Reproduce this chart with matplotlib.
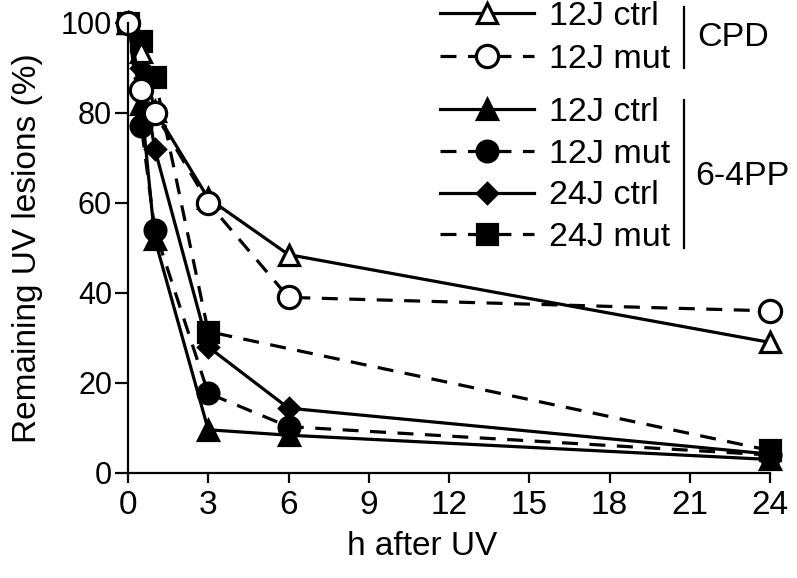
import matplotlib
matplotlib.use("Agg")
import matplotlib.pyplot as plt
from matplotlib.lines import Line2D

plt.rcParams['font.family'] = ['Liberation Sans', 'DejaVu Sans']

hours = [0, 0.5, 1, 3, 6, 24]
hours_24j_mut = [0, 0.5, 1, 3, 24]

cpd_12j_ctrl = [100, 93.5, 80.5, 61, 48.5, 29]
cpd_12j_mut = [100, 85, 80, 60, 39, 36]
pp_12j_ctrl = [100, 82, 52, 9.6, 8.4, 3]
pp_12j_mut = [100, 77, 54, 17.7, 10.3, 4]
pp_24j_ctrl = [100, 90, 72, 28, 14.4, 4.2]
pp_24j_mut = [100, 96, 88, 31.4, 5]

labels = ["12J ctrl", "12J mut", "12J ctrl", "12J mut", "24J ctrl", "24J mut"]
xticks = [0, 3, 6, 9, 12, 15, 18, 21, 24]
yticks = [0, 20, 40, 60, 80, 100]

W, H = 797, 578
fig = plt.figure(figsize=(W / 100, H / 100), dpi=100)
ax = fig.add_axes([128 / W, (H - 473) / H, 642 / W, 450.3 / H])

lw = 2.3
dash = (0, (5.0, 3.6))
common = dict(color='black', lw=lw, mew=lw, clip_on=False)

h_pp_ctrl12, = ax.plot(hours, pp_12j_ctrl, ls='-', marker='^', ms=15, mfc='black', mec='black', **common)
h_pp_mut12, = ax.plot(hours, pp_12j_mut, ls=dash, marker='o', ms=15, mfc='black', mec='black', **common)
h_pp_ctrl24, = ax.plot(hours, pp_24j_ctrl, ls='-', marker='D', ms=10, mfc='black', mec='black', **common)
h_pp_mut24, = ax.plot(hours_24j_mut, pp_24j_mut, ls=dash, marker='s', ms=14, mfc='black', mec='black', **common)
h_cpd_ctrl, = ax.plot(hours, cpd_12j_ctrl, ls='-', marker='^', ms=15, mfc='white', mec='black', **common)
h_cpd_mut, = ax.plot(hours, cpd_12j_mut, ls=dash, marker='o', ms=16, mfc='white', mec='black', **common)

ax.set_xlim(0, 24)
ax.set_ylim(0, 100)
ax.set_xticks(xticks)
ax.set_yticks(yticks)
ax.spines['top'].set_visible(False)
ax.spines['right'].set_visible(False)
for s in ('left', 'bottom'):
    ax.spines[s].set_linewidth(1.6)
ax.tick_params(axis='x', direction='out', length=7, width=1.6, labelsize=24, pad=5)
ax.tick_params(axis='y', direction='out', length=9.5, width=1.6, labelsize=22, pad=2)

ax.set_xlabel("h after UV", fontsize=24)
ax.set_ylabel("Remaining UV lesions (%)", fontsize=24)
ax.xaxis.set_label_coords(0.458, -0.128)
ax.yaxis.set_label_coords(-0.132, 0.5)

fs_leg = 24.5
leg_kw = dict(frameon=False, fontsize=fs_leg, handlelength=2.75, handletextpad=0.45,
              borderpad=0, borderaxespad=0, numpoints=1,
              loc='center left', bbox_transform=fig.transFigure)
leg1 = ax.legend([h_cpd_ctrl, h_cpd_mut], labels[:2], labelspacing=0.36,
                 bbox_to_anchor=(440 / W, 1 - 38 / H), **leg_kw)
ax.add_artist(leg1)
leg2 = ax.legend([h_pp_ctrl12, h_pp_mut12, h_pp_ctrl24, h_pp_mut24], labels[2:], labelspacing=0.32,
                 bbox_to_anchor=(440 / W, 1 - 175 / H), **leg_kw)

fig.add_artist(Line2D([684 / W, 684 / W], [1 - 7 / H, 1 - 68 / H], color='black', lw=1.6,
                      transform=fig.transFigure))
fig.add_artist(Line2D([684 / W, 684 / W], [1 - 100 / H, 1 - 248 / H], color='black', lw=1.6,
                      transform=fig.transFigure))
fig.text(697 / W, 1 - 38 / H, "CPD", fontsize=fs_leg, va='center', ha='left')
fig.text(695 / W, 1 - 177 / H, "6-4PP", fontsize=fs_leg, va='center', ha='left')

fig.savefig("out.png", dpi=100)
